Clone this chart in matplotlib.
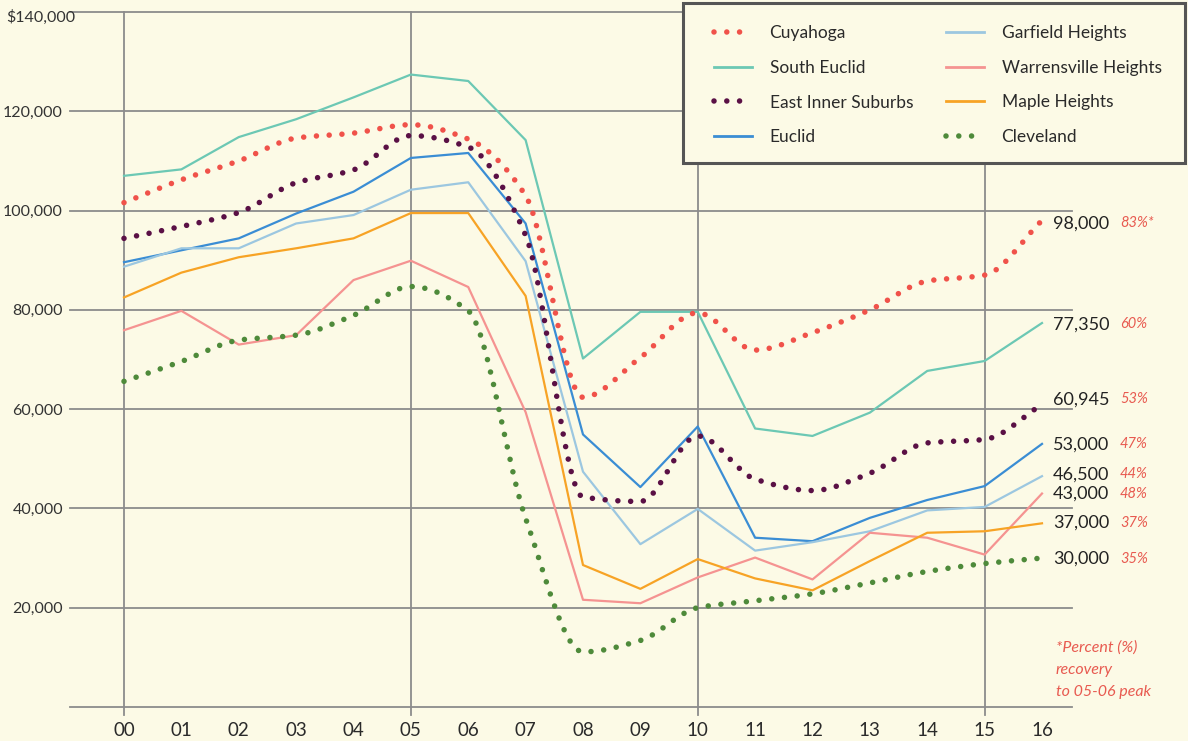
import numpy as np
import matplotlib.pyplot as plt
from matplotlib.path import Path
from matplotlib.patches import PathPatch, Rectangle
from matplotlib.lines import Line2D
from matplotlib.transforms import ScaledTranslation

plt.rcParams['font.family'] = ['Lato', 'DejaVu Sans']

years = ["00", "01", "02", "03", "04", "05", "06", "07", "08",
         "09", "10", "11", "12", "13", "14", "15", "16"]

cuyahoga = [101600, 106200, 110000, 114600, 115600, 117300, 114400, 103000, 62400,
            70400, 79400, 71900, 75400, 80000, 85800, 87000, 98000]
south_euclid = [107000, 108300, 114800, 118400, 122800, 127400, 126100, 114200, 70200,
                79600, 79600, 56100, 54600, 59300, 67700, 69700, 77350]
east_inner = [94400, 96800, 99600, 105600, 108200, 115100, 112800, 95000, 42300,
              41400, 54600, 45900, 43600, 47100, 53200, 53900, 60945]
euclid = [89600, 92000, 94400, 99400, 103800, 110600, 111600, 97400, 54900,
          44300, 56500, 34100, 33400, 38100, 41700, 44500, 53000]
garfield = [88700, 92400, 92400, 97400, 99100, 104200, 105700, 89800, 47400,
            32800, 39900, 31500, 33200, 35400, 39600, 40300, 46500]
warrensville = [75900, 79800, 73000, 74900, 86000, 89900, 84600, 59400, 21600,
                20900, 26100, 30100, 25700, 35100, 34100, 30700, 43000]
maple = [82500, 87500, 90600, 92400, 94400, 99500, 99500, 82800, 28600,
         23800, 29800, 25900, 23500, 29400, 35100, 35400, 37000]
cleveland = [65600, 69600, 73900, 74900, 78900, 84700, 79800, 38000, 11100,
             13400, 20000, 21400, 22800, 25000, 27300, 28900, 30000]

yticks = [20000, 40000, 60000, 80000, 100000, 120000, 140000]
ylabels = ["20,000", "40,000", "60,000", "80,000", "100,000", "120,000", "$140,000"]

end_labels = ["98,000", "77,350", "60,945", "53,000", "46,500", "43,000", "37,000", "30,000"]
end_pcts = ["83%*", "60%", "53%", "47%", "44%", "48%", "37%", "35%"]
label_y = [97400, 77100, 62000, 52900, 46900, 42900, 37100, 29900]

bg = "#FCFAE6"
grid = "#8C8C8C"
dots = (0, (0.001, 2.3))

series = [
    ("Cuyahoga", cuyahoga, "#F0524A", True),
    ("South Euclid", south_euclid, "#6CC8B4", False),
    ("East Inner Suburbs", east_inner, "#5A1045", True),
    ("Euclid", euclid, "#3A8DD4", False),
    ("Garfield Heights", garfield, "#9CC7E0", False),
    ("Warrensville Heights", warrensville, "#F59391", False),
    ("Maple Heights", maple, "#F7A325", False),
    ("Cleveland", cleveland, "#4E8A3A", True),
]


def smooth_path(xs, ys):
    # monotone cubic through the points, as bezier segments
    xs = np.asarray(xs, float)
    ys = np.asarray(ys, float)
    d = np.diff(ys) / np.diff(xs)
    m = np.zeros_like(ys)
    m[0], m[-1] = d[0], d[-1]
    for i in range(1, len(ys) - 1):
        if d[i - 1] * d[i] > 0:
            m[i] = 2 * d[i - 1] * d[i] / (d[i - 1] + d[i])
    verts = [(xs[0], ys[0])]
    codes = [Path.MOVETO]
    for i in range(len(xs) - 1):
        h = xs[i + 1] - xs[i]
        verts += [(xs[i] + h / 3, ys[i] + m[i] * h / 3),
                  (xs[i + 1] - h / 3, ys[i + 1] - m[i + 1] * h / 3),
                  (xs[i + 1], ys[i + 1])]
        codes += [Path.CURVE4] * 3
    return Path(verts, codes)


fig = plt.figure(figsize=(11.88, 7.41), dpi=100)
fig.patch.set_facecolor(bg)
ax = fig.add_axes([70 / 1188, 34 / 741, 1002 / 1188, 695 / 741])
ax.set_facecolor(bg)
ax.set_xlim(-54 / 57.375, 16 + 30 / 57.375)
ax.set_ylim(0, 140000)
for s in ax.spines.values():
    s.set_visible(False)

ax.set_yticks(yticks)
ax.set_yticklabels(ylabels)
ax.tick_params(axis='y', length=0, pad=5, labelsize=11.5, labelcolor="#333333")
top_lab = ax.get_yticklabels()[-1]
top_lab.set_transform(top_lab.get_transform()
                      + ScaledTranslation(0.12, -0.04, fig.dpi_scale_trans))
x = np.arange(len(years))
ax.set_xticks(x)
ax.set_xticklabels(years)
ax.tick_params(axis='x', length=0, pad=11, labelsize=13.5, labelcolor="#2a2a2a")

for v in [0] + yticks:
    ax.axhline(v, color=grid, lw=1.3, zorder=1, clip_on=False)
for xv in [0, 5, 10, 15]:
    ax.axvline(xv, ymin=-8 / 695, ymax=1, color=grid, lw=1.3, zorder=1, clip_on=False)

handles = []
for name, vals, color, dotted in series:
    if dotted:
        p = PathPatch(smooth_path(x, vals), fill=False, edgecolor=color, lw=4,
                      linestyle=dots, capstyle='round', zorder=3)
        ax.add_patch(p)
        handles.append(Line2D([], [], color=color, lw=4, linestyle=dots,
                              dash_capstyle='round', label=name))
    else:
        ax.plot(x, vals, color=color, lw=1.6, zorder=2)
        handles.append(Line2D([], [], color=color, lw=2, label=name))

for lab, pct, yv in zip(end_labels, end_pcts, label_y):
    ax.text(16.19, yv, lab, fontsize=13, color="#222222", va='center', ha='left')
    ax.text(17.36, yv, pct, fontsize=10.5, color="#E85A50", style='italic',
            va='center', ha='left')

ax.text(16.24, 13400, "*Percent (%)\nrecovery\nto 05-06 peak", fontsize=11.5,
        color="#E85A50", style='italic', va='top', ha='left', linespacing=1.75)

# legend box
fig.patches.append(Rectangle((683 / 1188, 1 - 163 / 741), 502 / 1188, 160 / 741,
                             transform=fig.transFigure, facecolor=bg,
                             edgecolor="#555555", lw=2.2, zorder=4))
fig.legend(handles=handles, ncol=2, loc='upper left',
           bbox_to_anchor=(714 / 1188, 1 - 25 / 741), frameon=False,
           borderpad=0, borderaxespad=0, fontsize=12.5, handlelength=2.2,
           handletextpad=1.0, columnspacing=1.9, labelspacing=1.08,
           labelcolor="#2a2a2a")

plt.savefig("out.png", dpi=100, facecolor=bg)
plt.close()
